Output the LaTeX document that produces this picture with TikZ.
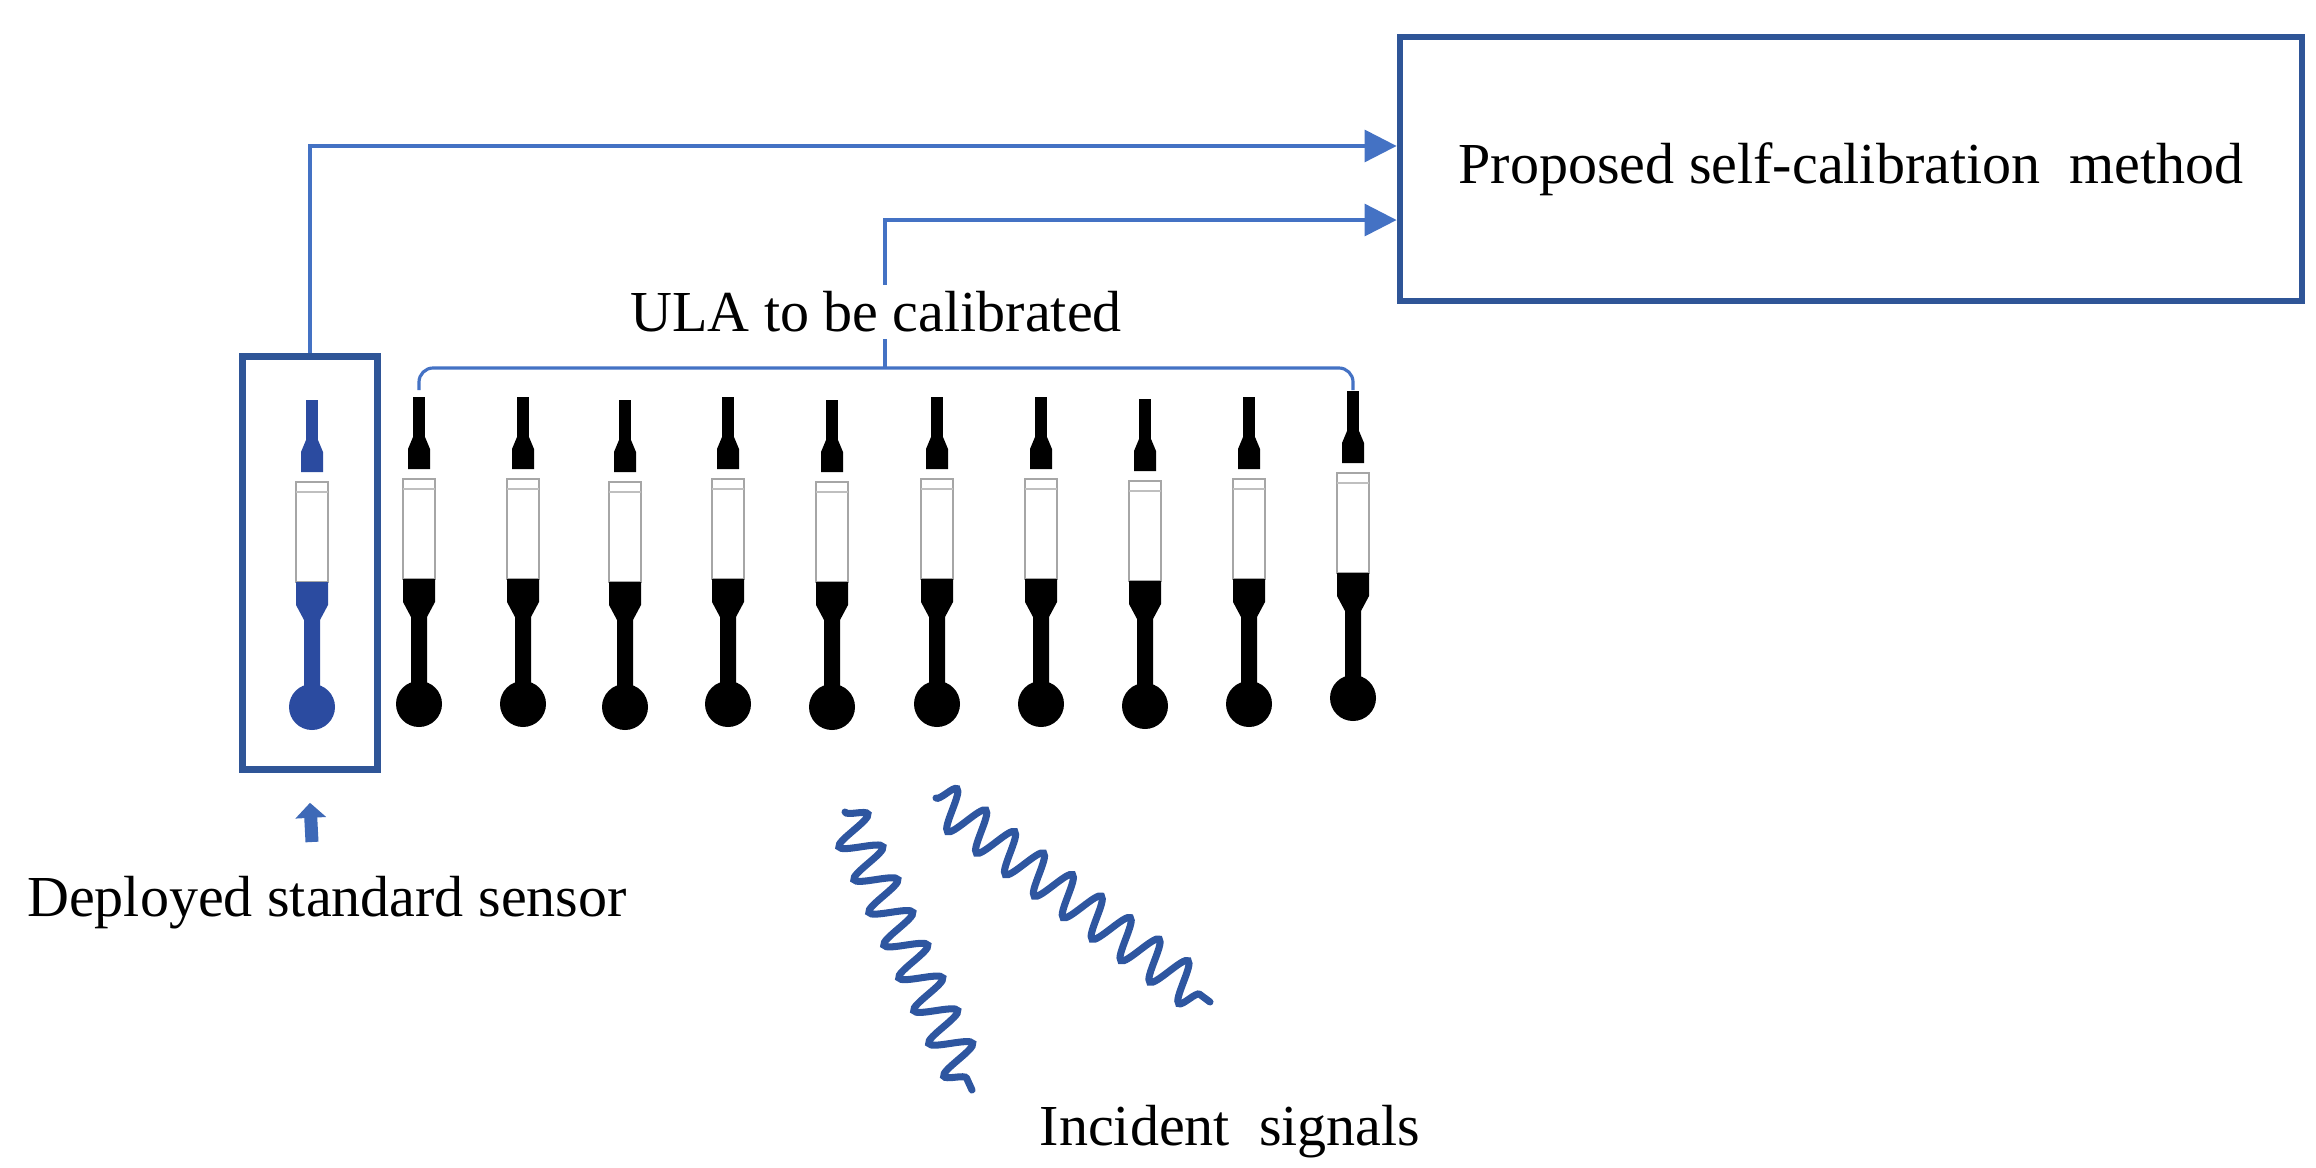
\documentclass[tikz,border=0pt]{standalone}
\usepackage{fontspec}
\setmainfont{Liberation Serif}
\usepackage{tikz}
\usetikzlibrary{arrows.meta, decorations.pathmorphing}

\definecolor{arrowblue}{HTML}{4472C4}
\definecolor{boxblue}{HTML}{2F5597}
\definecolor{sensorblue}{HTML}{2B4BA0}
\definecolor{waveblue}{HTML}{2E56A0}

% one sensor: x, top y, colour
\newcommand{\sensorat}[3]{
  \begin{scope}[shift={(#1,#2)}]
    \fill [#3] (-6,0) rectangle (6,46);
    \fill [#3] (-6,40) -- (-11,52) -- (-11,72) -- (11,72) -- (11,52) -- (6,40) -- cycle;
    \draw [gray!70, line width=0.8pt, fill=white] (-16,82) rectangle (16,182);
    \draw [gray!50, line width=0.5pt] (-16,92) -- (16,92);
    \fill [#3] (-16,182) -- (16,182) -- (16,205) -- (8,220) -- (8,300) -- (-8,300) -- (-8,220) -- (-16,205) -- cycle;
    \fill [#3] (0,307) circle (23);
  \end{scope}
}

\begin{document}
\begin{tikzpicture}[x=0.01cm, y=-0.01cm,
  link/.style={draw=arrowblue, line width=0.9pt, -{Triangle[length=0.32cm, width=0.32cm]}},
  frame/.style={draw=boxblue, line width=1.8pt, rectangle, inner sep=0pt},
  label/.style={font=\fontsize{16.5}{18}\selectfont, inner sep=2pt},
  wave/.style={draw=waveblue, line width=2pt, line cap=round,
    decorate, decoration={snake, amplitude=0.2cm, segment length=0.36cm}}
  ]

  \useasboundingbox (0,0) rectangle (2316,1167);

  % boxes
  \node [frame, minimum width=9.02cm, minimum height=2.64cm] (method) at (1851,169)
    {\fontsize{16.5}{18}\selectfont Proposed self-calibration\ \ method};
  \node [frame, minimum width=1.35cm, minimum height=4.13cm] (stdbox) at (310,563) {};

  % sensors
  \sensorat{312}{400}{sensorblue}
  \foreach \x/\y in {419/397, 523/397, 625/400, 728/397, 832/400,
                     937/397, 1041/397, 1145/399, 1249/397, 1353/391}
    \sensorat{\x}{\y}{black};

  % ULA bracket
  \coordinate (brk) at (885,368);
  \draw [arrowblue, line width=0.9pt, rounded corners=4]
    (419,390) -- (419,368) -- (1353,368) -- (1353,390);

  % links to the method box
  \draw [link] (stdbox.north) |- ([yshift=0.23cm]method.west);
  \draw [link] (brk) |- ([yshift=-0.51cm]method.west);

  % labels
  \node [label, fill=white] (ula) at (876,312) {ULA to be calibrated};
  \coordinate (stdtail) at (312,842);
  \draw [arrowblue!70!boxblue, line width=0.13cm, -{Triangle[length=0.15cm, width=0.3cm]}]
    (stdtail) -- ([yshift=-0.3cm]stdbox.south);
  \node [label] (stdlabel) at (327,903) {Deployed standard sensor};
  \node [label] (inclabel) at (1230,1132) {Incident\ \ signals};

  % incident signals
  \coordinate (w1a) at (845,812);
  \coordinate (w1b) at (972,1090);
  \coordinate (w2a) at (936,798);
  \coordinate (w2b) at (1210,1002);
  \draw [wave] (w1a) -- (w1b);
  \draw [wave] (w2a) -- (w2b);

\end{tikzpicture}
\end{document}
